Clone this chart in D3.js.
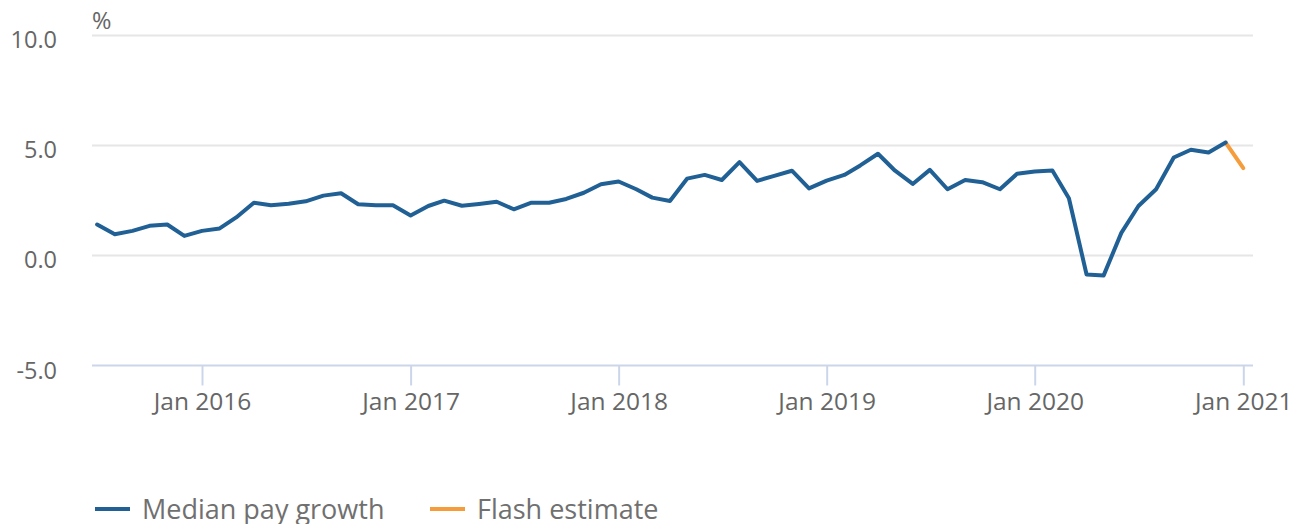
<!DOCTYPE html>
<html>
<head>
<meta charset="utf-8">
<script src="https://cdn.jsdelivr.net/npm/d3@7"></script>
<style>
  body { margin: 0; background: #fff; }
  text { font-family: 'Open Sans', sans-serif; }
</style>
</head>
<body>
<svg id="chart" width="1301" height="524"></svg>
<script>
// monthly median pay growth, Jul 2015 - Dec 2020
const months = d3.timeMonths(new Date(2015, 6, 1), new Date(2021, 0, 1));
const payGrowth = [
  1.4, 0.96, 1.11, 1.34, 1.4, 0.88,
  1.11, 1.22, 1.72, 2.39, 2.27, 2.34, 2.45, 2.71, 2.82, 2.32, 2.27, 2.27,
  1.81, 2.24, 2.48, 2.25, 2.33, 2.43, 2.09, 2.39, 2.39, 2.56, 2.84, 3.23,
  3.35, 3.0, 2.62, 2.47, 3.48, 3.65, 3.42, 4.23, 3.38, 3.61, 3.84, 3.04,
  3.39, 3.65, 4.08, 4.61, 3.84, 3.24, 3.88, 3.0, 3.42, 3.32, 3.0, 3.7,
  3.8, 3.85, 2.59, -0.87, -0.91, 1.02, 2.24, 3.0, 4.44, 4.79, 4.67, 5.12
];
// flash estimate: Dec 2020 -> Jan 2021
const flashMonths = [new Date(2020, 11, 1), new Date(2021, 0, 1)];
const flashValues = [5.12, 3.96];

const yTicks = [-5, 0, 5, 10];
const xTicks = [2016, 2017, 2018, 2019, 2020, 2021].map((y) => new Date(y, 0, 1));
const seriesNames = ['Median pay growth', 'Flash estimate'];
const seriesColors = ['#206095', '#f59c3c'];

const svg = d3.select('#chart');
const plotLeft = 92, plotRight = 1253, plotTop = 35, plotBottom = 365.5;

const x = d3.scaleTime()
  .domain([new Date(2015, 5, 22), new Date(2021, 0, 18)])
  .range([plotLeft, plotRight]);

const y = d3.scaleLinear().domain([-5, 10]).range([plotBottom, plotTop]);

// gridlines
svg.append('g')
  .selectAll('line')
  .data(yTicks.filter((d) => d !== -5))
  .join('line')
  .attr('x1', plotLeft)
  .attr('x2', plotRight)
  .attr('y1', (d) => Math.round(y(d)) + 0.5)
  .attr('y2', (d) => Math.round(y(d)) + 0.5)
  .attr('stroke', '#e6e6e6')
  .attr('stroke-width', 2);

// y axis labels
svg.append('g')
  .selectAll('text')
  .data(yTicks)
  .join('text')
  .attr('x', 57)
  .attr('y', (d) => y(d) + 13)
  .attr('text-anchor', 'end')
  .attr('font-size', '23.5px')
  .attr('fill', '#666')
  .text((d) => d3.format('.1f')(d).replace('−', '-'));

svg.append('text')
  .attr('x', 92)
  .attr('y', 29)
  .attr('font-size', '23.5px')
  .attr('fill', '#666')
  .text('%');

// x axis
const xAxis = d3.axisBottom(x)
  .tickValues(xTicks)
  .tickFormat(d3.timeFormat('Jan %Y'))
  .tickSize(20)
  .tickPadding(7);

const gx = svg.append('g')
  .attr('transform', `translate(0,${plotBottom})`)
  .call(xAxis);

gx.select('.domain').remove();
gx.insert('line', ':first-child')
  .attr('x1', plotLeft)
  .attr('x2', plotRight)
  .attr('stroke', '#ccd6eb')
  .attr('stroke-width', 2);
gx.selectAll('.tick line').attr('stroke', '#ccd6eb').attr('stroke-width', 2);
gx.selectAll('.tick text')
  .attr('font-family', "'Open Sans', sans-serif")
  .attr('font-size', '24.5px')
  .attr('fill', '#666');

// lines
const line = d3.line()
  .x((d) => x(d[0]))
  .y((d) => y(d[1]));

svg.append('path')
  .datum(d3.zip(flashMonths, flashValues))
  .attr('fill', 'none')
  .attr('stroke', seriesColors[1])
  .attr('stroke-width', 4)
  .attr('stroke-linecap', 'round')
  .attr('d', line);

svg.append('path')
  .datum(d3.zip(months, payGrowth))
  .attr('fill', 'none')
  .attr('stroke', seriesColors[0])
  .attr('stroke-width', 4)
  .attr('stroke-linejoin', 'round')
  .attr('stroke-linecap', 'round')
  .attr('d', line);

// legend
const legendX = [95, 430];
const legend = svg.append('g')
  .selectAll('g')
  .data(seriesNames)
  .join('g')
  .attr('transform', (d, i) => `translate(${legendX[i]},509)`);

legend.append('line')
  .attr('x1', 0)
  .attr('x2', 35)
  .attr('stroke', (d, i) => seriesColors[i])
  .attr('stroke-width', 4);

legend.append('text')
  .attr('x', 47)
  .attr('y', 10)
  .attr('font-size', '27px')
  .attr('fill', '#707070')
  .text((d) => d);
</script>
</body>
</html>
